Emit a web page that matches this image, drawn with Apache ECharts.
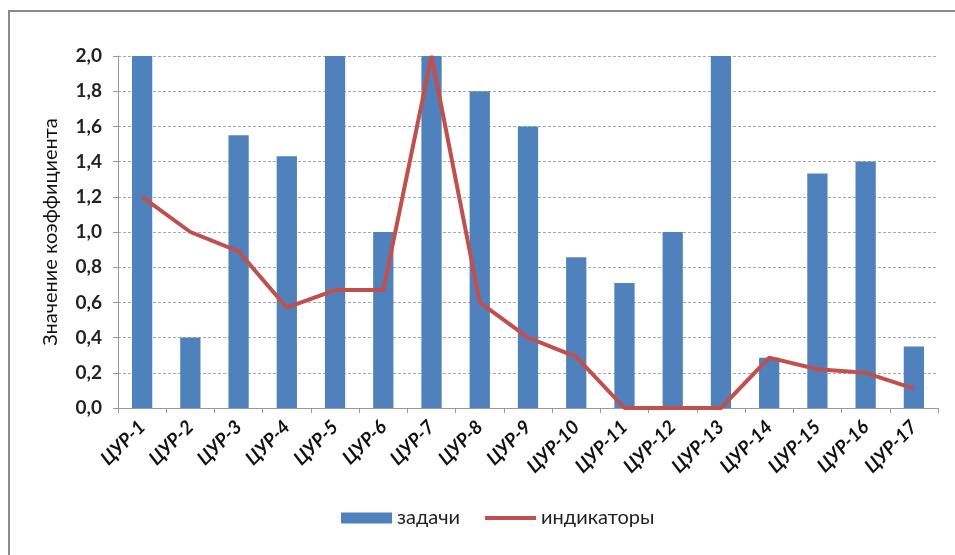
<!DOCTYPE html>
<html>
<head>
<meta charset="utf-8">
<script src="https://cdn.jsdelivr.net/npm/echarts@6/dist/echarts.min.js"></script>
<style>
html,body{margin:0;padding:0;background:#fff;}
#chart{width:955px;height:555px;}
</style>
</head>
<body>
<div id="chart"></div>
<script>
const categories = ['ЦУР-1','ЦУР-2','ЦУР-3','ЦУР-4','ЦУР-5','ЦУР-6','ЦУР-7','ЦУР-8','ЦУР-9','ЦУР-10','ЦУР-11','ЦУР-12','ЦУР-13','ЦУР-14','ЦУР-15','ЦУР-16','ЦУР-17'];
const tasks = [2.0, 0.4, 1.55, 1.43, 2.0, 1.0, 2.0, 1.8, 1.6, 0.857, 0.71, 1.0, 2.0, 0.286, 1.333, 1.4, 0.35];
const indicators = [1.2, 1.0, 0.89, 0.57, 0.67, 0.67, 2.0, 0.6, 0.4, 0.29, 0, 0, 0, 0.286, 0.22, 0.2, 0.11];
const seriesNames = ['задачи', 'индикаторы'];
const yAxisName = 'Значение коэффициента';

const chart = echarts.init(document.getElementById('chart'));
const font = 'Lato, "Open Sans", sans-serif';
chart.setOption({
  backgroundColor: '#fff',
  animation: false,
  textStyle: { fontFamily: font },
  graphic: [{
    type: 'rect',
    shape: { x: 9, y: 11, width: 2000, height: 2000 },
    style: { fill: 'none', stroke: '#8a8a8a', lineWidth: 2 },
    silent: true
  }],
  grid: { left: 118, right: 17, top: 56, bottom: 147 },
  legend: {
    bottom: 22,
    left: 336,
    itemWidth: 51,
    itemHeight: 11,
    itemGap: 25,
    textStyle: { fontSize: 20, color: '#222', fontFamily: font },
    data: [
      { name: seriesNames[0], icon: 'rect' },
      { name: seriesNames[1], icon: 'path://M0,0L51,0L51,4L0,4Z' }
    ]
  },
  xAxis: {
    type: 'category',
    data: categories,
    axisLine: { lineStyle: { color: '#999', width: 1 } },
    axisTick: { show: true, alignWithLabel: false, length: 5, lineStyle: { color: '#999' } },
    axisLabel: {
      rotate: 45,
      interval: 0,
      fontSize: 19,
      fontWeight: 'bold',
      fontStyle: 'italic',
      color: '#111',
      margin: 16
    }
  },
  yAxis: {
    type: 'value',
    min: 0,
    max: 2,
    interval: 0.2,
    name: yAxisName,
    nameLocation: 'middle',
    nameGap: 57,
    nameRotate: 90,
    nameTextStyle: { fontSize: 20, color: '#111', fontFamily: font },
    axisLine: { show: true, lineStyle: { color: '#999' } },
    axisTick: { show: true, length: 5, lineStyle: { color: '#999' } },
    axisLabel: {
      fontSize: 19,
      fontWeight: 'bold',
      color: '#222',
      margin: 16,
      formatter: v => v.toFixed(1).replace('.', ',')
    },
    splitLine: { show: true, lineStyle: { color: '#a8a8a8', type: [3, 2], width: 1 } }
  },
  series: [
    {
      name: seriesNames[0],
      type: 'bar',
      data: tasks,
      barWidth: '42%',
      itemStyle: { color: '#4f81bd' }
    },
    {
      name: seriesNames[1],
      type: 'line',
      data: indicators,
      symbol: 'none',
      lineStyle: { color: '#c0504d', width: 4 },
      itemStyle: { color: '#c0504d' }
    }
  ]
});
</script>
</body>
</html>
